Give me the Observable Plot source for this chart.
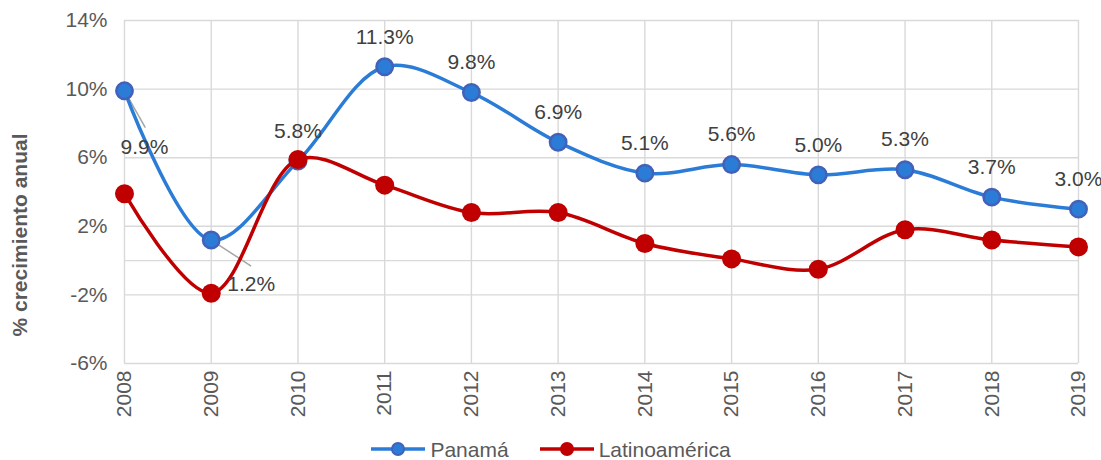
<!DOCTYPE html>
<html><head><meta charset="utf-8">
<script src="https://cdn.jsdelivr.net/npm/d3@7"></script>
<script src="https://cdn.jsdelivr.net/npm/@observablehq/plot@0.6"></script>
<style>
body{margin:0;background:#fff;font-family:"Liberation Sans",Arial,sans-serif;}
#chart svg{display:block;}
#legend{display:flex;justify-content:center;align-items:center;gap:30px;height:20px;margin-top:14px;font-size:21px;line-height:1;color:#595959;}
.item{display:flex;align-items:center;}
.item svg{margin-right:4px;display:block;}
</style></head><body><div id="chart"></div><div id="legend"></div><script>
const years = [2008,2009,2010,2011,2012,2013,2014,2015,2016,2017,2018,2019];
const panama = [9.9,1.2,5.8,11.3,9.8,6.9,5.1,5.6,5.0,5.3,3.7,3.0];
const latam = [3.9,-1.9,5.9,4.4,2.8,2.8,1.0,0.1,-0.5,1.8,1.2,0.8];
const yTicks = [14,10,6,2,-2,-6];
const seriesNames = ["Panamá","Latinoamérica"];
const yTitle = "% crecimiento anual";

const lineColors = ["#2B7CD6","#C00000"];
const dotStroke = ["#4361B8","#C00000"];
const grid = "#d9d9d9";

const pan = years.map((year,i)=>({year, value: panama[i]}));
const lat = years.map((year,i)=>({year, value: latam[i]}));
const fmt = d => d.value.toFixed(1) + "%";

const chart = Plot.plot({
  width: 1101, height: 425,
  marginLeft: 124, marginRight: 23, marginTop: 20, marginBottom: 62,
  style: {fontFamily: '"Liberation Sans", Arial, sans-serif', fontSize: "21px", color: "#595959", background: "#fff"},
  x: {domain: [2008, 2019], ticks: years, tickFormat: d => String(d), tickSize: 0, tickPadding: 7, tickRotate: -90, label: null},
  y: {domain: [-6, 14], ticks: yTicks, tickFormat: d => d + "%", tickSize: 0, tickPadding: 17, label: null},
  marks: [
    Plot.ruleY([...yTicks, 0], {stroke: grid, strokeWidth: 1.4}),
    Plot.ruleX(years, {stroke: grid, strokeWidth: 1.4}),
    Plot.link(pan.filter(d => d.year === 2008), {x1: "year", y1: "value", x2: d => d.year + 0.24, y2: d => d.value - 2.15, stroke: "#a6a6a6", strokeWidth: 1.5}),
    Plot.link(pan.filter(d => d.year === 2009), {x1: "year", y1: "value", x2: d => d.year + 0.46, y2: d => d.value - 1.52, stroke: "#a6a6a6", strokeWidth: 1.5}),
    Plot.line(pan, {x: "year", y: "value", curve: "catmull-rom", stroke: lineColors[0], strokeWidth: 3.5}),
    Plot.dot(pan, {x: "year", y: "value", r: 8.2, fill: lineColors[0], stroke: dotStroke[0], strokeWidth: 2.5}),
    Plot.line(lat, {x: "year", y: "value", curve: "catmull-rom", stroke: lineColors[1], strokeWidth: 3.5}),
    Plot.dot(lat, {x: "year", y: "value", r: 9.5, fill: lineColors[1]}),
    Plot.text(pan.filter(d => d.year > 2009), {x: "year", y: "value", text: fmt, dy: -30, fill: "#404040", fontSize: 21}),
    Plot.text(pan.filter(d => d.year === 2008), {x: "year", y: "value", text: fmt, dx: 20, dy: 56, fill: "#404040", fontSize: 21}),
    Plot.text(pan.filter(d => d.year === 2009), {x: "year", y: "value", text: fmt, dx: 40, dy: 44, fill: "#404040", fontSize: 21}),
    Plot.text([yTitle], {frameAnchor: "left", textAnchor: "middle", dx: -104, dy: 43, rotate: -90, fontWeight: "bold", fill: "#595959", fontSize: 21})
  ]
});
document.getElementById("chart").appendChild(chart);

const legend = document.getElementById("legend");
seriesNames.forEach((name, i) => {
  const item = document.createElement("div");
  item.className = "item";
  const r = i === 0 ? 6 : 7;
  const extra = i === 0 ? `stroke="${dotStroke[0]}" stroke-width="2"` : "";
  item.innerHTML = `<svg width="56" height="20"><line x1="1" x2="55" y1="10" y2="10" stroke="${lineColors[i]}" stroke-width="3.5"/><circle cx="28" cy="10" r="${r}" fill="${lineColors[i]}" ${extra}/></svg><span>${name}</span>`;
  legend.appendChild(item);
});
</script></body></html>
